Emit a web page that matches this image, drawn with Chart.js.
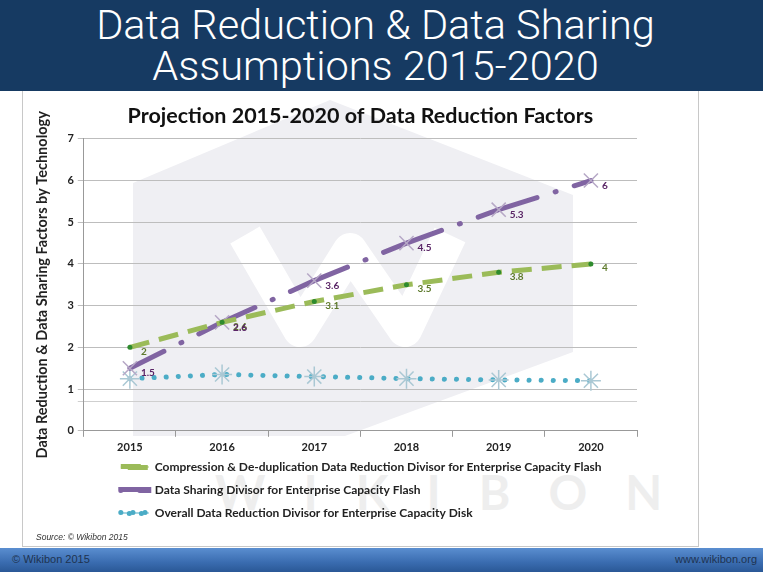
<!DOCTYPE html>
<html>
<head>
<meta charset="utf-8">
<script src="https://cdn.jsdelivr.net/npm/chart.js@4.4.1/dist/chart.umd.min.js"></script>
<style>
  html, body { margin: 0; padding: 0; background: #fff; }
  body { width: 773px; height: 572px; position: relative; overflow: hidden; font-family: "Liberation Sans", Arial, sans-serif; }
  #head { position: absolute; left: 0; top: 0; width: 763px; height: 91px; background: #163a62;
          color: #fff; text-align: center; font-family: Roboto, "Liberation Sans", sans-serif; font-weight: 300;
          font-size: 41.5px; line-height: 41px; padding: 4px 12px 0 0; box-sizing: border-box; }
  #panel { position: absolute; left: 22px; top: 91px; width: 675px; height: 455px; border: 1px solid #c8c8c8;
           border-top: none; background: transparent; }
  #wm { position: absolute; left: 0; top: 0; }
  #chartBox { position: absolute; left: 22px; top: 91px; width: 675px; height: 446px; }
  #src { position: absolute; left: 36px; top: 532px; font-size: 8.5px; font-style: italic; color: #333; }
  #foot { position: absolute; left: 0; top: 548px; width: 763px; height: 24px;
          background: linear-gradient(#5a8ed0, #3a6cb0 60%, #2a5896); color: #1e3350; font-size: 11px; }
  #foot .l { position: absolute; left: 12px; top: 5px; }
  #foot .r { position: absolute; right: 6px; top: 5px; }
</style>
</head>
<body>
<div id="head">Data Reduction &amp; Data Sharing<br>Assumptions 2015-2020</div>
<svg id="wm" width="773" height="572">
  <polygon points="133,183 330,100 573,195 573,352 345,436 133,436" fill="#efeff3"/>
  <polyline points="245,235 300,330 350,250 405,330 450,235" fill="none" stroke="#ffffff" stroke-width="34" stroke-linejoin="round"/>
  <text x="215" y="510" font-family="Lato, sans-serif" font-weight="700" font-size="48" fill="#eeeeee" letter-spacing="38">WIKIBON</text>
</svg>
<div id="panel"></div>
<div id="chartBox"><canvas id="c"></canvas></div>
<div id="src">Source: © Wikibon 2015</div>
<div id="foot"><span class="l">© Wikibon 2015</span><span class="r">www.wikibon.org</span></div>
<script>
"use strict";

// ---------- data ----------
const years = ["2015", "2016", "2017", "2018", "2019", "2020"];
const compression = [2, 2.6, 3.1, 3.5, 3.8, 4];
const sharing = [1.5, 2.6, 3.6, 4.5, 5.3, 6];
const diskReduction = [1.25, 1.35, 1.3, 1.25, 1.22, 1.2];
const yTicks = [0, 0.7, 1, 2, 3, 4, 5, 6, 7];   // 0.7 = unlabelled extra gridline

const seriesNames = [
  "Compression & De-duplication Data Reduction Divisor for Enterprise Capacity Flash",
  "Data Sharing Divisor for Enterprise Capacity Flash",
  "Overall Data Reduction Divisor for Enterprise Capacity Disk",
];
// which datasets carry value labels, and in what colour
const labelColors = ["#5e7a2c", "#5a2566", null];

const FONT = "Lato, 'Open Sans', sans-serif";

// value labels drawn to the right of each point
const valueLabels = {
  id: "valueLabels",
  afterDatasetsDraw(chart) {
    const ctx = chart.ctx;
    ctx.save();
    ctx.font = "bold 10px " + FONT;
    ctx.textBaseline = "middle";
    chart.data.datasets.forEach((ds, i) => {
      const col = labelColors[i];
      if (!col) return;
      const meta = chart.getDatasetMeta(i);
      ctx.fillStyle = col;
      meta.data.forEach((pt, j) => {
        const dy = i === 0 ? 4 : 5;
        ctx.fillText(String(ds.data[j]), pt.x + 11, pt.y + dy);
      });
    });
    ctx.restore();
  }
};

// nudge the legend right/up so it sits under the plot like the original
const legendShift = {
  id: "legendShift",
  afterLayout(chart) {
    const lg = chart.legend;
    if (!lg) return;
    const dx = 26, dy = -8;
    lg.left += dx; lg.right += dx; lg.top += dy; lg.bottom += dy;
    if (lg.legendHitBoxes) lg.legendHitBoxes.forEach(b => { b.left += dx; b.top += dy; });
  }
};

new Chart(document.getElementById("c"), {
  type: "line",
  data: {
    labels: years,
    datasets: [
      { label: seriesNames[0], data: compression, borderColor: "#9bbb59", backgroundColor: "#9bbb59",
        borderWidth: 5, borderDash: [20, 10], pointStyle: "circle", pointRadius: 2.5,
        pointBackgroundColor: "#2e8b2e", pointBorderColor: "#2e8b2e", pointBorderWidth: 0 },
      { label: seriesNames[1], data: sharing, borderColor: "#8064a2", backgroundColor: "#8064a2",
        borderWidth: 5, borderDash: [62, 19, 1, 19], borderDashOffset: 24, borderCapStyle: "round",
        pointStyle: "crossRot", pointRadius: 10, pointBorderColor: "#b6a8c6", pointBorderWidth: 1.5 },
      { label: seriesNames[2], data: diskReduction, borderColor: "#4bacc6", backgroundColor: "#4bacc6",
        borderWidth: 5, borderDash: [0.1, 12], borderCapStyle: "round", pointStyle: "star",
        pointRadius: 10, pointBorderColor: "#aac8d4", pointBorderWidth: 1.5 },
    ]
  },
  options: {
    responsive: true, maintainAspectRatio: false, animation: false,
    layout: { padding: { left: 8, right: 60, top: 6, bottom: 0 } },
    plugins: {
      tooltip: { enabled: false },
      title: { display: true, fullSize: false, text: "Projection 2015-2020 of Data Reduction Factors",
               font: { family: FONT, size: 21.5, weight: "bold" }, color: "#111",
               padding: { top: 6, bottom: 10 } },
      legend: {
        position: "bottom", align: "start", fullSize: false,
        labels: {
          font: { family: FONT, size: 12, weight: "bold" }, color: "#222",
          boxWidth: 28, boxHeight: 1, padding: 11,
          sort: (a, b) => a.datasetIndex - b.datasetIndex,
        }
      }
    },
    scales: {
      x: {
        offset: true,
        grid: { display: true, drawOnChartArea: false, offset: true, color: "#999", tickLength: 6 },
        border: { color: "#999" },
        ticks: { font: { family: FONT, size: 11, weight: "bold" }, color: "#222", padding: 4 }
      },
      y: {
        min: 0, max: 7,
        afterBuildTicks: (axis) => { axis.ticks = yTicks.map(v => ({ value: v })); },
        grid: { color: (c) => c.tick && c.tick.value === 0.7 ? "#cfcfcf" : "#bdbdbd", tickLength: 6 },
        border: { color: "#999" },
        ticks: { font: { family: FONT, size: 11, weight: "bold" }, color: "#222", padding: 4,
                 callback: (v) => Number.isInteger(v) ? String(v) : "" },
        title: { display: true, text: "Data Reduction & Data Sharing Factors by Technology",
                 font: { family: FONT, size: 14.5, weight: "bold" }, color: "#222", padding: { bottom: 12 } }
      }
    }
  },
  plugins: [valueLabels, legendShift]
});
</script>
</body>
</html>
